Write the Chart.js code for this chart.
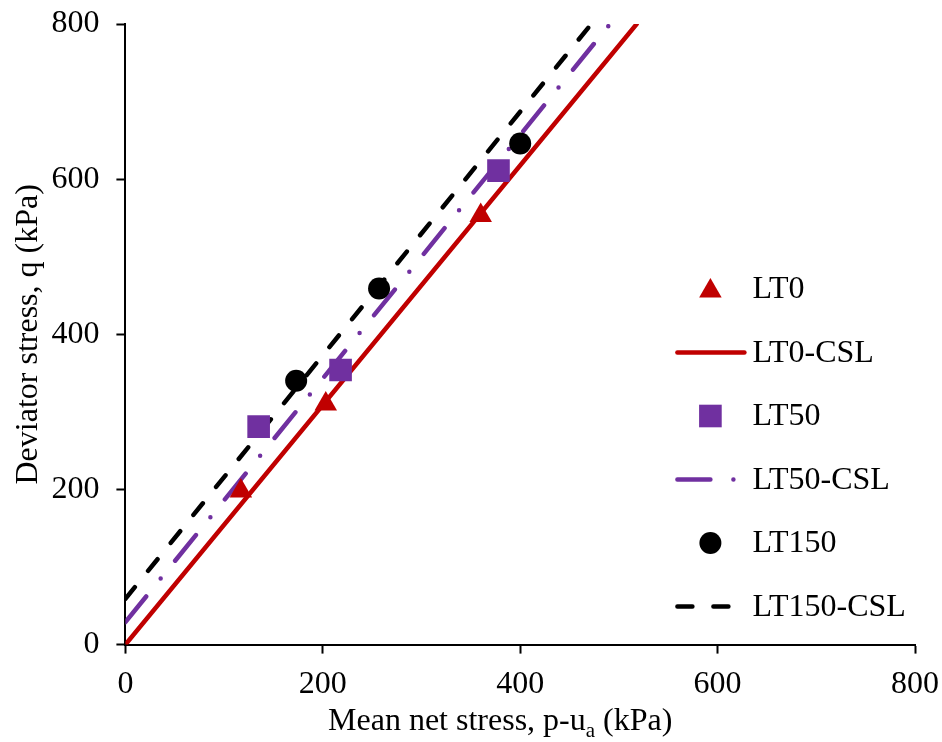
<!DOCTYPE html>
<html>
<head>
<meta charset="utf-8">
<script src="https://cdn.jsdelivr.net/npm/chart.js@4.4.1/dist/chart.umd.min.js"></script>
<style>
  html, body { margin: 0; padding: 0; background: #fff; }
  #wrap { width: 942px; height: 742px; }
</style>
</head>
<body>
<div id="wrap"><canvas id="chart"></canvas></div>
<script>
const FONT = '"Liberation Serif", "Times New Roman", serif';

// test points: mean net stress p-ua (kPa) and deviator stress q (kPa)
const lt0P = [117, 203, 360];
const lt0Q = [198, 310, 553];
const lt50P = [135, 218, 378];
const lt50Q = [281, 354, 611];
const lt150P = [173, 257, 400];
const lt150Q = [340, 459, 646];

// critical state lines, start and end point of each
const csl0P = [0, 518];
const csl0Q = [0, 800];
const csl50P = [0, 491];
const csl50Q = [29, 800];
const csl150P = [0, 472];
const csl150Q = [59, 800];

const axisTicks = [0, 200, 400, 600, 800];

const RED = '#C00000';
const PURPLE = '#7030A0';
const BLACK = '#000000';

function pts(xs, ys) {
  return xs.map((x, i) => ({ x: x, y: ys[i] }));
}

function markers(label, xs, ys, color, style, radius) {
  return {
    label: label,
    data: pts(xs, ys),
    showLine: false,
    pointStyle: style,
    pointRadius: radius,
    pointHoverRadius: radius,
    pointBackgroundColor: color,
    pointBorderColor: color,
    pointBorderWidth: 0,
    borderColor: color,
    backgroundColor: color,
    order: 0
  };
}

function csl(label, xs, ys, color, dash) {
  return {
    label: label,
    data: pts(xs, ys),
    showLine: true,
    borderColor: color,
    backgroundColor: color,
    borderWidth: 4.5,
    borderDash: dash,
    borderCapStyle: 'round',
    pointRadius: 0,
    pointHoverRadius: 0,
    order: 1
  };
}

// legend sits inside the plot area, one column on the right
const sideLegend = {
  id: 'sideLegend',
  afterDraw(chart) {
    const ctx = chart.ctx;
    const a = chart.chartArea;
    const lineX = a.left + 552;
    const markX = a.left + 585;
    const textX = a.left + 627;
    chart.data.datasets.forEach((ds, i) => {
      const y = a.top + 265 + i * 63.5;
      ctx.save();
      if (ds.showLine) {
        ctx.strokeStyle = ds.borderColor;
        ctx.lineWidth = ds.borderWidth;
        ctx.lineCap = 'round';
        ctx.setLineDash(ds.borderDash || []);
        ctx.beginPath();
        ctx.moveTo(lineX, y);
        ctx.lineTo(lineX + 67, y);
        ctx.stroke();
      } else {
        ctx.fillStyle = ds.pointBackgroundColor;
        Chart.helpers.drawPoint(ctx, {
          pointStyle: ds.pointStyle,
          radius: ds.pointRadius,
          rotation: 0,
          borderWidth: 0
        }, markX, ds.pointStyle === 'triangle' ? y + 2 : y);
      }
      ctx.setLineDash([]);
      ctx.fillStyle = '#000';
      ctx.font = '32px ' + FONT;
      ctx.textBaseline = 'middle';
      ctx.textAlign = 'left';
      ctx.fillText(ds.label, textX, y + 1);
      ctx.restore();
    });
  }
};

// x axis title with a subscript "a"
const xTitle = {
  id: 'xTitle',
  afterDraw(chart) {
    const ctx = chart.ctx;
    const a = chart.chartArea;
    const main = 'Mean net stress, p-u';
    const sub = 'a';
    const tail = ' (kPa)';
    const base = chart.height - 12;
    ctx.save();
    ctx.fillStyle = '#000';
    ctx.textBaseline = 'alphabetic';
    ctx.textAlign = 'left';
    ctx.font = '32px ' + FONT;
    const w1 = ctx.measureText(main).width;
    const w3 = ctx.measureText(tail).width;
    ctx.font = '21px ' + FONT;
    const w2 = ctx.measureText(sub).width;
    let x = (a.left + a.right) / 2 - 20 - (w1 + w2 + w3) / 2;
    ctx.font = '32px ' + FONT;
    ctx.fillText(main, x, base);
    x += w1;
    ctx.font = '21px ' + FONT;
    ctx.fillText(sub, x, base + 7);
    x += w2;
    ctx.font = '32px ' + FONT;
    ctx.fillText(tail, x, base);
    ctx.restore();
  }
};

function axis(extra) {
  return Object.assign({
    type: 'linear',
    min: 0,
    max: 800,
    afterBuildTicks: s => { s.ticks = axisTicks.map(v => ({ value: v })); },
    // end labels may hang past the plot edge, the layout padding covers them
    afterFit: s => {
      s.paddingTop = 0;
      s.paddingBottom = 0;
      s.paddingLeft = 0;
      s.paddingRight = 0;
    },
    border: { display: true, color: '#000', width: 2 },
    grid: { display: true, drawOnChartArea: false, drawTicks: true, tickLength: 9, tickColor: '#000', tickWidth: 2 },
    ticks: { color: '#000', font: { family: FONT, size: 32 } }
  }, extra);
}

new Chart(document.getElementById('chart'), {
  type: 'scatter',
  data: {
    datasets: [
      markers('LT0', lt0P, lt0Q, RED, 'triangle', 13),
      csl('LT0-CSL', csl0P, csl0Q, RED, []),
      markers('LT50', lt50P, lt50Q, PURPLE, 'rect', 16),
      csl('LT50-CSL', csl50P, csl50Q, PURPLE, [33, 23, 0, 23]),
      markers('LT150', lt150P, lt150Q, BLACK, 'circle', 11),
      csl('LT150-CSL', csl150P, csl150Q, BLACK, [15, 21])
    ]
  },
  options: {
    responsive: true,
    maintainAspectRatio: false,
    animation: false,
    layout: { autoPadding: false, padding: { left: 5, right: 27, top: 24, bottom: 26 } },
    plugins: {
      legend: { display: false },
      tooltip: { enabled: false }
    },
    scales: {
      x: axis({
        position: 'bottom',
        ticks: { color: '#000', padding: 12, font: { family: FONT, size: 32 } }
      }),
      y: axis({
        position: 'left',
        ticks: { color: '#000', padding: 17, font: { family: FONT, size: 32 } },
        title: {
          display: true,
          text: 'Deviator stress, q (kPa)',
          color: '#000',
          font: { family: FONT, size: 32 },
          padding: { top: 4, bottom: -13 }
        }
      })
    }
  },
  plugins: [sideLegend, xTitle]
});
</script>
</body>
</html>
